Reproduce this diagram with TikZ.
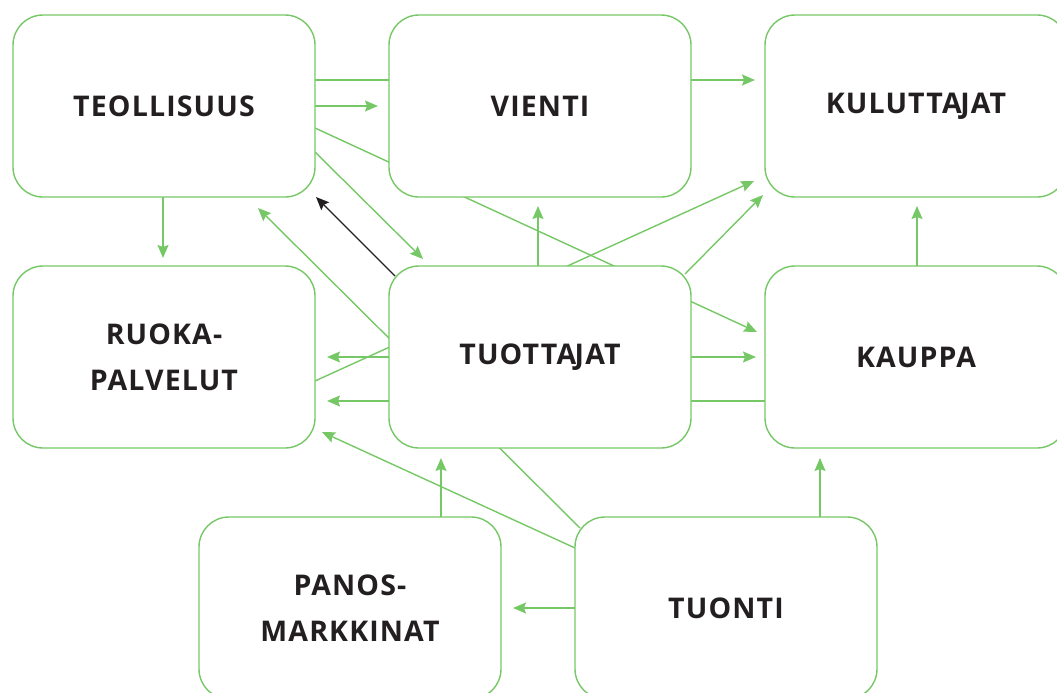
\documentclass[tikz,border=0pt]{standalone}
\usepackage{fontspec}
\usetikzlibrary{arrows.meta,calc,backgrounds}
\newfontfamily\boxfont[LetterSpace=4]{Open Sans}
\definecolor{flowgreen}{RGB}{118,200,102}
\definecolor{inkdark}{RGB}{35,31,32}
\newcommand\ajkern{\kern-1.5pt\relax}

\begin{document}
\begin{tikzpicture}[x=1pt,y=-1pt,
    box/.style={draw=flowgreen, line width=1.4pt, fill=white, rounded corners=30pt,
                minimum width=302pt, minimum height=182pt, inner sep=0pt, outer sep=0pt,
                text=inkdark, align=center,
                font=\boxfont\bfseries\fontsize{28.5}{46}\selectfont},
    flow/.style={draw=flowgreen, line width=1.4pt,
                 -{Stealth[length=13pt,width=11pt,inset=2pt]}},
    backflow/.style={flow, draw=inkdark}]

    % Page frame
    \useasboundingbox (0,0) rectangle (1057,693);

    % Boxes (top row, middle row, bottom row)
    \node[box] (teollisuus) at (164,106) {TEOLLISUUS};
    \node[box] (vienti)     at (540,106) {VIENTI};
    \node[box] (kuluttajat) at (916,106) {KULUTTA\ajkern JAT};

    \node[box] (ruoka)      at (164,357) {RUOKA-\\PALVELUT};
    \node[box] (tuottajat)  at (540,357) {TUOTTA\ajkern JAT};
    \node[box] (kauppa)     at (916,357) {KAUPPA};

    \node[box] (panos)      at (350,608) {PANOS-\\MARKKINAT};
    \node[box] (tuonti)     at (726,608) {TUONTI};

    % Flows, drawn behind the boxes
    \begin{scope}[on background layer]
        % from teollisuus
        \draw[flow] ($(teollisuus.east)+(0,-26)$) -- ($(kuluttajat.west)+(-10,-26)$);
        \draw[flow] (teollisuus.east) -- ($(vienti.west)+(-11,0)$);
        \draw[flow] ($(teollisuus.east)+(0,22)$) -- ($(kauppa.west)+(-8,-25)$);
        \draw[flow] ($(teollisuus.east)+(0,46)$) -- ($(tuottajat.north west)+(34,-7)$);
        \draw[flow] ($(teollisuus.south)+(-1,0)$) -- ($(ruoka.north)+(-1,-8)$);

        % from tuottajat
        \draw[backflow] ($(tuottajat.north west)+(6,10)$) -- ($(teollisuus.south east)+(1,0)$);
        \draw[flow] (tuottajat.west) -- ($(ruoka.east)+(12,0)$);
        \draw[flow] (tuottajat.east) -- ($(kauppa.west)+(-9,0)$);
        \draw[flow] ($(tuottajat.north)+(-2,0)$) -- ($(vienti.south)+(-2,9)$);
        \draw[flow] ($(tuottajat.north east)+(-6,8)$) -- ($(kuluttajat.south west)+(-2,-2)$);

        % from ruoka and kauppa
        \draw[flow] ($(ruoka.east)+(0,24)$) -- ($(kuluttajat.south west)+(-11,-16)$);
        \draw[flow] ($(kauppa.west)+(0,44)$) -- ($(ruoka.east)+(12,44)$);
        \draw[flow] ($(kauppa.north)+(1,0)$) -- ($(kuluttajat.south)+(1,9)$);

        % from panos and tuonti
        \draw[flow] ($(panos.north)+(91,0)$) -- ($(tuottajat.south)+(-99,10)$);
        \draw[flow] ($(tuonti.north)+(94,0)$) -- ($(kauppa.south)+(-96,10)$);
        \draw[flow] (tuonti.west) -- ($(panos.east)+(12,0)$);
        \draw[flow] ($(tuonti.west)+(0,-60)$) -- ($(ruoka.south east)+(7,-16)$);
        \draw[flow] ($(tuonti.north west)+(5,11)$) -- ($(teollisuus.south)+(94,11)$);
    \end{scope}

\end{tikzpicture}
\end{document}
